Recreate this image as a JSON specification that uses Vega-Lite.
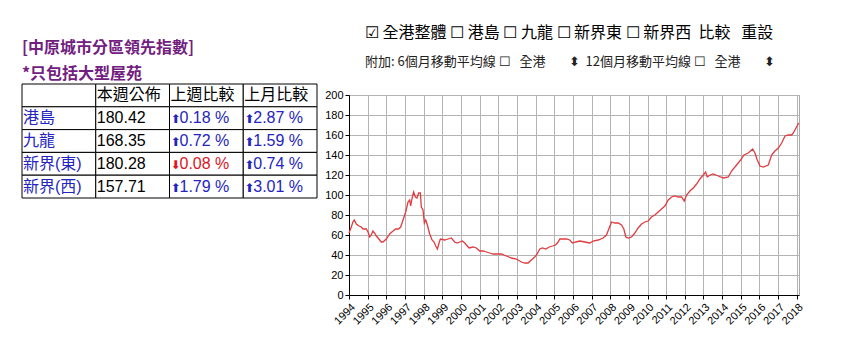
{
  "$schema": "https://vega.github.io/schema/vega-lite/v6.json",
  "background": "white",
  "padding": {"left": 21, "top": 25, "right": 5, "bottom": 5},
  "spacing": 6,
  "config": {
    "font": "Liberation Sans, Noto Sans CJK TC, sans-serif",
    "axis": {"labelFont": "Liberation Sans, sans-serif", "labelColor": "black"}
  },
  "hconcat": [
    {
      "title": {
        "text": "[中原城市分區領先指數]",
        "subtitle": "*只包括大型屋苑",
        "anchor": "start",
        "frame": "group",
        "font": "Noto Sans CJK TC",
        "subtitleFont": "Noto Sans CJK TC",
        "fontSize": 16,
        "subtitleFontSize": 16,
        "fontWeight": "bold",
        "subtitleFontWeight": "bold",
        "color": "#72207f",
        "subtitleColor": "#72207f",
        "subtitlePadding": 10,
        "offset": 2
      },
      "width": 295,
      "height": 114,
      "view": {"stroke": null},
      "data": {
        "values": [
          {"row": "表頭", "col": "區域", "text": "", "arrow": "", "kind": "header"},
          {"row": "表頭", "col": "本週公佈", "text": "本週公佈", "arrow": "", "kind": "header"},
          {"row": "表頭", "col": "上週比較", "text": "上週比較", "arrow": "", "kind": "header"},
          {"row": "表頭", "col": "上月比較", "text": "上月比較", "arrow": "", "kind": "header"},
          {"row": "港島", "col": "區域", "text": "港島", "arrow": "", "kind": "region"},
          {"row": "港島", "col": "本週公佈", "text": "180.42", "arrow": "", "kind": "value"},
          {"row": "港島", "col": "上週比較", "text": "0.18 %", "arrow": "⬆", "kind": "up"},
          {"row": "港島", "col": "上月比較", "text": "2.87 %", "arrow": "⬆", "kind": "up"},
          {"row": "九龍", "col": "區域", "text": "九龍", "arrow": "", "kind": "region"},
          {"row": "九龍", "col": "本週公佈", "text": "168.35", "arrow": "", "kind": "value"},
          {"row": "九龍", "col": "上週比較", "text": "0.72 %", "arrow": "⬆", "kind": "up"},
          {"row": "九龍", "col": "上月比較", "text": "1.59 %", "arrow": "⬆", "kind": "up"},
          {"row": "新界(東)", "col": "區域", "text": "新界(東)", "arrow": "", "kind": "region"},
          {"row": "新界(東)", "col": "本週公佈", "text": "180.28", "arrow": "", "kind": "value"},
          {"row": "新界(東)", "col": "上週比較", "text": "0.08 %", "arrow": "⬇", "kind": "down"},
          {"row": "新界(東)", "col": "上月比較", "text": "0.74 %", "arrow": "⬆", "kind": "up"},
          {"row": "新界(西)", "col": "區域", "text": "新界(西)", "arrow": "", "kind": "region"},
          {"row": "新界(西)", "col": "本週公佈", "text": "157.71", "arrow": "", "kind": "value"},
          {"row": "新界(西)", "col": "上週比較", "text": "1.79 %", "arrow": "⬆", "kind": "up"},
          {"row": "新界(西)", "col": "上月比較", "text": "3.01 %", "arrow": "⬆", "kind": "up"}
        ]
      },
      "encoding": {
        "x": {"field": "col", "type": "nominal", "sort": ["區域", "本週公佈", "上週比較", "上月比較"], "axis": null, "scale": {"paddingInner": 0, "paddingOuter": 0}},
        "y": {"field": "row", "type": "nominal", "sort": ["表頭", "港島", "九龍", "新界(東)", "新界(西)"], "axis": null, "scale": {"paddingInner": 0, "paddingOuter": 0}}
      },
      "layer": [
        {"mark": {"type": "rect", "fill": "white", "stroke": "black", "strokeWidth": 1}},
        {
          "transform": [{"filter": "datum.arrow == ''"}],
          "mark": {"type": "text", "align": "left", "baseline": "middle", "dx": 1, "fontSize": 16},
          "encoding": {
            "x": {"field": "col", "type": "nominal", "sort": ["區域", "本週公佈", "上週比較", "上月比較"], "axis": null, "bandPosition": 0},
            "text": {"field": "text"},
            "color": {"field": "kind", "type": "nominal", "legend": null,
              "scale": {"domain": ["header", "region", "value", "up", "down"], "range": ["#000000", "#2424c0", "#000000", "#2424c0", "#e0141c"]}}
          }
        },
        {
          "transform": [{"filter": "datum.arrow != ''"}],
          "mark": {"type": "text", "align": "left", "baseline": "middle", "dx": 1, "dy": 1, "fontSize": 12, "font": "DejaVu Sans"},
          "encoding": {
            "x": {"field": "col", "type": "nominal", "sort": ["區域", "本週公佈", "上週比較", "上月比較"], "axis": null, "bandPosition": 0},
            "text": {"field": "arrow"},
            "color": {"field": "kind", "type": "nominal", "legend": null}
          }
        },
        {
          "transform": [{"filter": "datum.arrow != ''"}],
          "mark": {"type": "text", "align": "left", "baseline": "middle", "dx": 10, "fontSize": 16},
          "encoding": {
            "x": {"field": "col", "type": "nominal", "sort": ["區域", "本週公佈", "上週比較", "上月比較"], "axis": null, "bandPosition": 0},
            "text": {"field": "text"},
            "color": {"field": "kind", "type": "nominal", "legend": null}
          }
        }
      ]
    },
    {
      "spacing": 3,
      "vconcat": [
        {
          "title": {
            "text": "☑ 全港整體 ☐ 港島 ☐ 九龍 ☐ 新界東 ☐ 新界西\u00a0\u00a0比較\u00a0\u00a0\u00a0重設",
            "subtitle": "附加: 6個月移動平均線 ☐ \u00a0\u00a0全港\u00a0\u00a0\u00a0\u00a0\u00a0\u00a0\u00a0\u00a0⬍\u00a0 12個月移動平均線 ☐ \u00a0\u00a0全港\u00a0\u00a0\u00a0\u00a0\u00a0\u00a0\u00a0\u00a0⬍",
            "anchor": "start",
            "frame": "group",
            "dx": 16,
            "font": "Noto Sans CJK TC",
            "subtitleFont": "Noto Sans CJK TC",
            "fontSize": 16,
            "subtitleFontSize": 13,
            "fontWeight": "normal",
            "color": "black",
            "subtitleColor": "#222222",
            "subtitlePadding": 15,
            "offset": 15
          },
          "width": 450,
          "height": 1,
          "view": {"stroke": null},
          "data": {"values": []},
          "mark": "text",
          "encoding": {}
        },
        {
          "width": 450,
          "height": 200,
          "view": {"stroke": "#aaaaaa"},
          "data": {
            "values": [
              {"date": "1994-01-01", "value": 62}, {"date": "1994-02-15", "value": 68}, {"date": "1994-03-18", "value": 73},
              {"date": "1994-04-15", "value": 75}, {"date": "1994-05-24", "value": 71}, {"date": "1994-07-15", "value": 69},
              {"date": "1994-08-30", "value": 68}, {"date": "1994-10-01", "value": 66}, {"date": "1994-12-05", "value": 66},
              {"date": "1995-01-08", "value": 63}, {"date": "1995-02-10", "value": 58}, {"date": "1995-03-13", "value": 60},
              {"date": "1995-04-15", "value": 64}, {"date": "1995-05-18", "value": 62}, {"date": "1995-06-20", "value": 59},
              {"date": "1995-08-10", "value": 56}, {"date": "1995-09-25", "value": 53}, {"date": "1995-10-28", "value": 53},
              {"date": "1996-01-01", "value": 56}, {"date": "1996-03-07", "value": 61}, {"date": "1996-05-12", "value": 64},
              {"date": "1996-07-03", "value": 66}, {"date": "1996-08-24", "value": 66}, {"date": "1996-10-09", "value": 68},
              {"date": "1996-11-24", "value": 75}, {"date": "1997-01-15", "value": 83}, {"date": "1997-03-01", "value": 93},
              {"date": "1997-04-03", "value": 95}, {"date": "1997-04-22", "value": 89}, {"date": "1997-05-25", "value": 98},
              {"date": "1997-06-20", "value": 103}, {"date": "1997-07-23", "value": 98}, {"date": "1997-08-24", "value": 97},
              {"date": "1997-09-26", "value": 102}, {"date": "1997-10-29", "value": 102}, {"date": "1997-11-17", "value": 88},
              {"date": "1997-12-20", "value": 85}, {"date": "1998-01-15", "value": 72}, {"date": "1998-02-11", "value": 75},
              {"date": "1998-03-15", "value": 70}, {"date": "1998-04-30", "value": 61}, {"date": "1998-06-15", "value": 55},
              {"date": "1998-07-24", "value": 53}, {"date": "1998-08-26", "value": 49}, {"date": "1998-09-27", "value": 46},
              {"date": "1998-10-30", "value": 52}, {"date": "1998-11-25", "value": 56}, {"date": "1999-02-18", "value": 55},
              {"date": "1999-04-23", "value": 56}, {"date": "1999-06-28", "value": 57}, {"date": "1999-09-01", "value": 53},
              {"date": "1999-10-23", "value": 52}, {"date": "1999-12-08", "value": 53}, {"date": "2000-01-30", "value": 54},
              {"date": "2000-03-16", "value": 52}, {"date": "2000-04-18", "value": 50}, {"date": "2000-06-09", "value": 47},
              {"date": "2000-08-26", "value": 48}, {"date": "2000-10-30", "value": 47}, {"date": "2001-01-04", "value": 44},
              {"date": "2001-03-10", "value": 44}, {"date": "2001-05-15", "value": 43}, {"date": "2001-07-19", "value": 42},
              {"date": "2001-09-22", "value": 41}, {"date": "2001-11-26", "value": 41}, {"date": "2002-03-04", "value": 41},
              {"date": "2002-06-10", "value": 39}, {"date": "2002-09-16", "value": 37}, {"date": "2002-12-23", "value": 36},
              {"date": "2003-03-31", "value": 33}, {"date": "2003-06-04", "value": 32}, {"date": "2003-08-08", "value": 32},
              {"date": "2003-10-12", "value": 35}, {"date": "2003-12-17", "value": 38}, {"date": "2004-02-01", "value": 41},
              {"date": "2004-03-24", "value": 46}, {"date": "2004-05-16", "value": 47}, {"date": "2004-07-20", "value": 46},
              {"date": "2004-09-24", "value": 48}, {"date": "2004-11-27", "value": 49}, {"date": "2005-01-25", "value": 50},
              {"date": "2005-03-18", "value": 53}, {"date": "2005-04-20", "value": 56}, {"date": "2005-06-24", "value": 56},
              {"date": "2005-08-28", "value": 56}, {"date": "2005-11-01", "value": 55}, {"date": "2005-12-24", "value": 52},
              {"date": "2006-02-27", "value": 53}, {"date": "2006-05-17", "value": 54}, {"date": "2006-08-23", "value": 53},
              {"date": "2006-11-29", "value": 52}, {"date": "2007-02-02", "value": 54}, {"date": "2007-05-11", "value": 55},
              {"date": "2007-08-17", "value": 57}, {"date": "2007-10-21", "value": 60}, {"date": "2007-12-13", "value": 67},
              {"date": "2008-01-28", "value": 73}, {"date": "2008-04-02", "value": 72}, {"date": "2008-06-07", "value": 72},
              {"date": "2008-08-10", "value": 70}, {"date": "2008-09-25", "value": 66}, {"date": "2008-11-03", "value": 58},
              {"date": "2008-12-19", "value": 57}, {"date": "2009-02-23", "value": 58}, {"date": "2009-04-28", "value": 62},
              {"date": "2009-07-02", "value": 67}, {"date": "2009-09-06", "value": 71}, {"date": "2009-11-10", "value": 73},
              {"date": "2010-01-15", "value": 74}, {"date": "2010-03-20", "value": 78}, {"date": "2010-05-25", "value": 80},
              {"date": "2010-07-29", "value": 83}, {"date": "2010-10-02", "value": 86}, {"date": "2010-12-07", "value": 89},
              {"date": "2011-02-11", "value": 95}, {"date": "2011-04-17", "value": 98}, {"date": "2011-06-21", "value": 99},
              {"date": "2011-08-25", "value": 98}, {"date": "2011-10-30", "value": 98}, {"date": "2011-12-21", "value": 94},
              {"date": "2012-02-05", "value": 100}, {"date": "2012-04-10", "value": 104}, {"date": "2012-06-15", "value": 107},
              {"date": "2012-08-19", "value": 111}, {"date": "2012-10-23", "value": 116}, {"date": "2012-12-28", "value": 120},
              {"date": "2013-02-12", "value": 123}, {"date": "2013-03-17", "value": 118}, {"date": "2013-05-08", "value": 120},
              {"date": "2013-07-12", "value": 121}, {"date": "2013-10-18", "value": 119}, {"date": "2014-01-24", "value": 117},
              {"date": "2014-05-01", "value": 118}, {"date": "2014-07-05", "value": 124}, {"date": "2014-10-11", "value": 130},
              {"date": "2014-12-29", "value": 135}, {"date": "2015-03-04", "value": 140}, {"date": "2015-05-28", "value": 142},
              {"date": "2015-08-21", "value": 146}, {"date": "2015-10-06", "value": 142}, {"date": "2015-11-20", "value": 135},
              {"date": "2016-01-12", "value": 129}, {"date": "2016-03-17", "value": 128}, {"date": "2016-06-23", "value": 130},
              {"date": "2016-08-27", "value": 140}, {"date": "2016-10-31", "value": 144}, {"date": "2017-01-06", "value": 147},
              {"date": "2017-03-12", "value": 152}, {"date": "2017-05-16", "value": 159}, {"date": "2017-07-20", "value": 160},
              {"date": "2017-09-23", "value": 160}, {"date": "2017-10-26", "value": 162}, {"date": "2017-12-17", "value": 167},
              {"date": "2018-02-08", "value": 172}
            ]
          },
          "mark": {"type": "line", "color": "#e23a3f", "strokeWidth": 1.3},
          "encoding": {
            "x": {
              "field": "date", "type": "temporal",
              "scale": {"domain": [{"year": 1994, "month": 1, "date": 1}, {"year": 2018, "month": 2, "date": 14}]},
              "axis": {"title": null, "format": "%Y", "tickCount": {"interval": "year", "step": 1}, "labelAngle": -45, "labelFontSize": 11,
                "labelOverlap": false, "labelPadding": 2, "domainColor": "black", "tickColor": "black", "tickSize": 4, "gridColor": "#b3b3b3", "gridOpacity": 1}
            },
            "y": {
              "field": "value", "type": "quantitative",
              "scale": {"domain": [0, 200]},
              "axis": {"title": null, "values": [0, 20, 40, 60, 80, 100, 120, 140, 160, 180, 200], "labelFontSize": 11, "labelPadding": 2,
                "domainColor": "black", "tickColor": "black", "tickSize": 4, "gridColor": "#b3b3b3", "gridOpacity": 1}
            }
          }
        }
      ]
    }
  ]
}
